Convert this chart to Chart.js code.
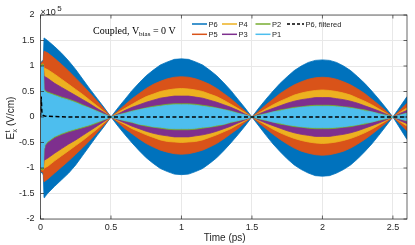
<!DOCTYPE html>
<html>
<head>
<meta charset="utf-8">
<script src="https://cdn.jsdelivr.net/npm/chart.js@4.4.1/dist/chart.umd.min.js"></script>
<style>
html,body{margin:0;padding:0;background:#fff;}
#wrap{width:415px;height:245px;position:relative;}
</style>
</head>
<body>
<div id="wrap"><canvas id="c" width="415" height="245"></canvas></div>
<script>
// Time samples (ps)
const T = [0,0.005,0.01,0.015,0.02,0.025,0.03,0.05,0.1,0.15,0.2,0.25,0.3,0.35,0.4,0.45,0.5,
  0.55,0.6,0.65,0.7,0.75,0.8,0.85,0.9,0.95,1.0,1.05,1.1,1.15,1.2,1.25,1.3,1.35,1.4,1.45,1.5,
  1.55,1.6,1.65,1.7,1.75,1.8,1.85,1.9,1.95,2.0,2.05,2.1,2.15,2.2,2.25,2.3,2.35,2.4,2.45,2.5,
  2.55,2.6];

// Upper / lower envelopes of each oscillating field (units of 1e5 V/cm)
const P6_HI = [1.05,1.08,1.10,1.10,1.12,1.55,1.55,1.50,1.38,1.25,1.10,0.93,0.74,0.55,0.37,0.19,0,
  .18,.35,.52,.67,.81,.92,1.02,1.08,1.13,1.14,1.13,1.08,1.02,.92,.81,.67,.52,.35,.18,0,
  .18,.35,.51,.66,.79,.91,1.00,1.07,1.11,1.12,1.11,1.07,1.00,.91,.79,.66,.51,.35,.18,0,
  .20,.40];
const P6_LO = [-1.05,-1.08,-1.10,-1.10,-1.15,-1.58,-1.57,-1.50,-1.36,-1.23,-1.10,-0.94,-0.75,-0.56,-0.37,-0.19,0,
  -.18,-.35,-.51,-.66,-.80,-.91,-1.01,-1.07,-1.12,-1.13,-1.12,-1.07,-1.01,-.91,-.80,-.66,-.51,-.35,-.18,0,
  -.18,-.36,-.53,-.68,-.82,-.94,-1.03,-1.10,-1.15,-1.16,-1.15,-1.10,-1.03,-.94,-.82,-.68,-.53,-.36,-.18,0,
  -.22,-.44];
const P5_HI = [1.03,1.06,1.08,1.08,1.10,1.29,1.29,1.26,1.15,1.03,0.90,0.76,0.62,0.47,0.32,0.16,0,
  .12,.24,.36,.46,.56,.64,.70,.75,.78,.79,.78,.75,.70,.64,.56,.46,.36,.24,.12,0,
  .12,.24,.35,.46,.55,.63,.69,.74,.77,.78,.77,.74,.69,.63,.55,.46,.35,.24,.12,0,
  .13,.27];
const P5_LO = [-1.03,-1.06,-1.08,-1.08,-1.10,-1.27,-1.27,-1.22,-1.10,-0.98,-0.86,-0.73,-0.60,-0.46,-0.31,-0.16,0,
  -.11,-.23,-.33,-.43,-.52,-.59,-.65,-.69,-.72,-.73,-.72,-.69,-.65,-.59,-.52,-.43,-.33,-.23,-.11,0,
  -.12,-.23,-.34,-.44,-.53,-.61,-.67,-.71,-.74,-.75,-.74,-.71,-.67,-.61,-.53,-.44,-.34,-.23,-.12,0,
  -.13,-.27];
const P4_HI = [1.00,1.02,1.04,1.04,1.04,0.96,0.96,0.93,0.84,0.74,0.64,0.54,0.44,0.33,0.22,0.11,0,
  .09,.17,.25,.33,.40,.45,.50,.53,.55,.56,.55,.53,.50,.45,.40,.33,.25,.17,.09,0,
  .08,.16,.24,.31,.37,.43,.47,.50,.52,.53,.52,.50,.47,.43,.37,.31,.24,.16,.08,0,
  .09,.18];
const P4_LO = [-1.00,-1.02,-1.04,-1.04,-1.04,-1.00,-1.00,-0.97,-0.86,-0.76,-0.66,-0.56,-0.46,-0.35,-0.24,-0.12,0,
  -.08,-.15,-.23,-.29,-.35,-.40,-.45,-.48,-.49,-.50,-.49,-.48,-.45,-.40,-.35,-.29,-.23,-.15,-.08,0,
  -.08,-.16,-.24,-.31,-.37,-.42,-.46,-.49,-.51,-.52,-.51,-.49,-.46,-.42,-.37,-.31,-.24,-.16,-.08,0,
  -.09,-.18];
const P3_HI = [0.98,1.00,1.02,1.02,1.02,0.80,0.80,0.76,0.66,0.58,0.50,0.42,0.34,0.26,0.17,0.09,0,
  .06,.13,.19,.24,.29,.33,.37,.39,.41,.41,.41,.39,.37,.33,.29,.24,.19,.13,.06,0,
  .06,.12,.17,.22,.27,.31,.34,.36,.38,.38,.38,.36,.34,.31,.27,.22,.17,.12,.06,0,
  .07,.13];
const P3_LO = [-0.98,-1.00,-1.02,-1.02,-1.02,-0.85,-0.85,-0.81,-0.71,-0.62,-0.53,-0.45,-0.36,-0.27,-0.18,-0.09,0,
  -.06,-.12,-.18,-.23,-.28,-.32,-.35,-.37,-.39,-.39,-.39,-.37,-.35,-.32,-.28,-.23,-.18,-.12,-.06,0,
  -.06,-.12,-.17,-.22,-.27,-.31,-.34,-.36,-.38,-.38,-.38,-.36,-.34,-.31,-.27,-.22,-.17,-.12,-.06,0,
  -.07,-.13];
const P2_HI = [1.00,1.02,1.03,1.03,1.03,0.54,0.52,0.49,0.44,0.39,0.35,0.30,0.24,0.18,0.12,0.06,0,
  .04,.08,.12,.15,.18,.21,.23,.25,.26,.26,.26,.25,.23,.21,.18,.15,.12,.08,.04,0,
  .04,.07,.10,.14,.16,.19,.20,.22,.23,.23,.23,.22,.20,.19,.16,.14,.10,.07,.04,0,
  .04,.08];
const P2_LO = [-1.00,-1.02,-1.03,-1.03,-1.03,-0.62,-0.57,-0.50,-0.40,-0.34,-0.29,-0.25,-0.21,-0.17,-0.12,-0.06,0,
  -.04,-.08,-.11,-.15,-.18,-.20,-.22,-.24,-.25,-.25,-.25,-.24,-.22,-.20,-.18,-.15,-.11,-.08,-.04,0,
  -.04,-.07,-.10,-.14,-.16,-.19,-.20,-.22,-.23,-.23,-.23,-.22,-.20,-.19,-.16,-.14,-.10,-.07,-.04,0,
  -.04,-.08];
const P1_HI = [0.96,0.98,1.00,1.00,1.00,0.52,0.50,0.47,0.42,0.37,0.33,0.28,0.22,0.17,0.11,0.05,0,
  .04,.07,.11,.14,.17,.19,.21,.23,.24,.24,.24,.23,.21,.19,.17,.14,.11,.07,.04,0,
  .03,.06,.10,.12,.15,.17,.19,.20,.21,.21,.21,.20,.19,.17,.15,.12,.10,.06,.03,0,
  .035,.07];
const P1_LO = [-0.96,-0.98,-1.00,-1.00,-1.00,-0.60,-0.55,-0.48,-0.38,-0.32,-0.27,-0.23,-0.19,-0.15,-0.10,-0.05,0,
  -.04,-.07,-.10,-.14,-.16,-.19,-.20,-.22,-.23,-.23,-.23,-.22,-.20,-.19,-.16,-.14,-.10,-.07,-.04,0,
  -.03,-.06,-.10,-.12,-.15,-.17,-.19,-.20,-.21,-.21,-.21,-.20,-.19,-.17,-.15,-.12,-.10,-.06,-.03,0,
  -.035,-.07];

// Filtered P6
const FILT_T = [0,0.005,0.01,0.015,0.02,0.03,0.05,0.1,0.15,0.2,2.6];
const FILT_V = [0,0.40,0.08,0.04,0.03,0.02,0.015,0.01,0.005,0,0];

const SERIES_NAMES = ['P6','P5','P4','P3','P2','P1'];
const SERIES_HI = [P6_HI,P5_HI,P4_HI,P3_HI,P2_HI,P1_HI];
const SERIES_LO = [P6_LO,P5_LO,P4_LO,P3_LO,P2_LO,P1_LO];
const COLORS = ['#0072BD','#D95319','#EDB120','#7E2F8E','#77AC30','#4DBEEE'];
const FILT_NAME = 'P6, filtered';

const X_TICKS = [0,0.5,1,1.5,2,2.5];
const Y_TICKS = [-2,-1.5,-1,-0.5,0,0.5,1,1.5,2];

const pts = (xs, ys) => xs.map((x,i)=>({x:x, y:ys[i]}));

const datasets = [];
SERIES_NAMES.forEach((name, i) => {
  const ord = (6 - i) * 10;
  [SERIES_HI[i], SERIES_LO[i]].forEach(arr => {
    datasets.push({
      label: name,
      data: pts(T, arr),
      borderColor: COLORS[i],
      backgroundColor: COLORS[i],
      borderWidth: 0.8,
      pointRadius: 0,
      fill: 'origin',
      tension: 0,
      order: ord
    });
  });
});
datasets.push({
  label: FILT_NAME,
  data: pts(FILT_T, FILT_V),
  borderColor: '#000000',
  borderWidth: 1.5,
  borderDash: [4, 2.5],
  pointRadius: 0,
  fill: false,
  tension: 0,
  order: 0
});

const INK = '#262626';

const decor = {
  id: 'decor',
  afterDraw(chart) {
    const ctx = chart.ctx;
    const a = chart.chartArea;
    const xs = chart.scales.x, ys = chart.scales.y;
    ctx.save();
    // box
    ctx.strokeStyle = INK;
    ctx.lineWidth = 0.7;
    ctx.strokeRect(a.left, a.top, a.right - a.left, a.bottom - a.top);
    // inward ticks
    const tl = 3.5;
    ctx.beginPath();
    X_TICKS.forEach(v => {
      const px = xs.getPixelForValue(v);
      ctx.moveTo(px, a.bottom); ctx.lineTo(px, a.bottom - tl);
      ctx.moveTo(px, a.top); ctx.lineTo(px, a.top + tl);
    });
    Y_TICKS.forEach(v => {
      const py = ys.getPixelForValue(v);
      ctx.moveTo(a.left, py); ctx.lineTo(a.left + tl, py);
      ctx.moveTo(a.right, py); ctx.lineTo(a.right - tl, py);
    });
    ctx.stroke();

    // exponent label
    ctx.fillStyle = INK;
    ctx.textBaseline = 'alphabetic';
    ctx.textAlign = 'left';
    ctx.font = '9px "Liberation Sans", Arial, sans-serif';
    ctx.fillText('\u00d710', a.left, 15);
    const w10 = ctx.measureText('\u00d710').width;
    ctx.font = '8px "Liberation Sans", Arial, sans-serif';
    ctx.fillText('5', a.left + w10 + 1.5, 11);

    // y axis title  E^t_x (V/cm)
    ctx.save();
    ctx.translate(14, (a.top + a.bottom) / 2 + 1);
    ctx.rotate(-Math.PI / 2);
    const fBig = '10px "Liberation Sans", Arial, sans-serif';
    const fSmall = '7px "Liberation Sans", Arial, sans-serif';
    ctx.font = fBig; const wE = ctx.measureText('E').width;
    ctx.font = fSmall; const wS = Math.max(ctx.measureText('t').width, ctx.measureText('x').width);
    ctx.font = fBig; const wR = ctx.measureText(' (V/cm)').width;
    let x0 = -(wE + wS + 0.5 + wR) / 2;
    ctx.textAlign = 'left';
    ctx.font = fBig; ctx.fillText('E', x0, 0);
    ctx.font = fSmall;
    ctx.fillText('t', x0 + wE + 0.3, -4.5);
    ctx.fillText('x', x0 + wE + 0.3, 2.5);
    ctx.font = fBig; ctx.fillText(' (V/cm)', x0 + wE + wS + 0.5, 0);
    ctx.restore();

    // x axis title
    ctx.font = '10px "Liberation Sans", Arial, sans-serif';
    ctx.textAlign = 'center';
    ctx.fillText('Time (ps)', (a.left + a.right) / 2 + 1, 241);

    // annotation text
    ctx.textAlign = 'left';
    ctx.fillStyle = '#000';
    const serif = '"Liberation Serif", "Times New Roman", serif';
    let tx = 93, ty = 33.5;
    ctx.font = '10px ' + serif;
    ctx.fillText('Coupled, V', tx, ty);
    tx += ctx.measureText('Coupled, V').width;
    ctx.font = '7px ' + serif;
    ctx.fillText('bias', tx, ty + 2);
    tx += ctx.measureText('bias').width;
    ctx.font = '10px ' + serif;
    ctx.fillText(' = 0 V', tx, ty);

    // legend (4 columns, column-major)
    const cols = [192, 222, 255.5, 287];
    const rows = [24, 34.3];
    const lineLen = 15;
    const entries = SERIES_NAMES.map((n, i) => ({name: n, color: COLORS[i], dash: []}));
    entries.push({name: FILT_NAME, color: '#000', dash: [3, 2]});
    ctx.font = '7.5px "Liberation Sans", Arial, sans-serif';
    ctx.textBaseline = 'middle';
    entries.forEach((e, k) => {
      const c = Math.floor(k / 2), r = k % 2;
      const lx = cols[c], ly = rows[r];
      ctx.strokeStyle = e.color;
      ctx.lineWidth = 1.5;
      ctx.setLineDash(e.dash);
      ctx.beginPath(); ctx.moveTo(lx, ly); ctx.lineTo(lx + lineLen + (c === 3 ? 2 : 0), ly); ctx.stroke();
      ctx.setLineDash([]);
      ctx.fillStyle = INK;
      ctx.fillText(e.name, lx + lineLen + (c === 3 ? 2 : 0) + 1.5, ly + 0.5);
    });
    ctx.restore();
  }
};

Chart.defaults.font.family = '"Liberation Sans", Arial, sans-serif';
Chart.defaults.color = INK;

new Chart(document.getElementById('c'), {
  type: 'line',
  data: { datasets },
  options: {
    responsive: false,
    devicePixelRatio: 1,
    animation: false,
    events: [],
    layout: { padding: { left: 0, right: 8, top: 15, bottom: 0 } },
    plugins: { legend: { display: false }, tooltip: { enabled: false } },
    scales: {
      x: {
        type: 'linear',
        min: 0, max: 2.6,
        afterBuildTicks: s => { s.ticks = X_TICKS.map(v => ({value: v})); },
        afterFit: s => { s.height = 26; },
        ticks: { font: { size: 9 }, padding: 3, maxRotation: 0, callback: v => String(v) },
        grid: { color: '#e8e8e8', lineWidth: 1, drawTicks: false },
        border: { display: false }
      },
      y: {
        type: 'linear',
        min: -2, max: 2,
        afterBuildTicks: s => { s.ticks = Y_TICKS.map(v => ({value: v})); },
        afterFit: s => { s.width = 40.5; },
        ticks: { font: { size: 9 }, padding: 6, callback: v => String(v) },
        grid: { color: '#e8e8e8', lineWidth: 1, drawTicks: false },
        border: { display: false }
      }
    }
  },
  plugins: [decor]
});
</script>
</body>
</html>
